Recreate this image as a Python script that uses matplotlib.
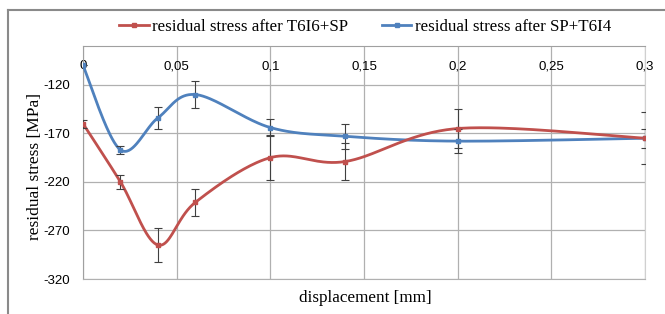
import numpy as np
import matplotlib
matplotlib.use("Agg")
import matplotlib.pyplot as plt
from matplotlib.lines import Line2D

# datos
desplazamiento = [0.0, 0.02, 0.04, 0.06, 0.10, 0.14, 0.20, 0.30]
tension_t6i6_sp = [-160, -220, -285, -241, -195, -199, -165, -175]
error_t6i6_sp = [4, 7, 18, 14, 23, 19, 20, 27]
tension_sp_t6i4 = [-100, -187, -154, -130, -164, -173, -178, -175]
error_sp_t6i4 = [0, 4, 11, 14, 9, 13, 12, 10]

etiquetas_x = ["0", "0,05", "0,1", "0,15", "0,2", "0,25", "0,3"]
ticks_x = [0, 0.05, 0.1, 0.15, 0.2, 0.25, 0.3]
ticks_y = [-320, -270, -220, -170, -120]

ROJO = "#C0504D"
AZUL = "#4F81BD"


# curva suavizada tipo Excel (Bezier / Catmull-Rom)
def suavizar(x, y, n=40):
    p = np.column_stack([x, y]).astype(float)
    p = np.vstack([p[0], p, p[-1]])
    xs, ys = [], []
    t = np.linspace(0, 1, n)
    for i in range(1, len(p) - 2):
        p0, p1, p2, p3 = p[i - 1], p[i], p[i + 1], p[i + 2]
        b1 = p1 + (p2 - p0) / 6
        b2 = p2 - (p3 - p1) / 6
        c = ((1 - t) ** 3)[:, None] * p1 + (3 * (1 - t) ** 2 * t)[:, None] * b1 \
            + (3 * (1 - t) * t ** 2)[:, None] * b2 + (t ** 3)[:, None] * p2
        xs.extend(c[:, 0])
        ys.extend(c[:, 1])
    return xs, ys


fig = plt.figure(figsize=(6.65, 3.14), dpi=100)
ax = fig.add_axes([83 / 665, 35 / 314, 562 / 665, 233 / 314])

serif = "Liberation Serif"
sans = "Liberation Sans"

for yv, err, col in [(tension_sp_t6i4, error_sp_t6i4, AZUL),
                     (tension_t6i6_sp, error_t6i6_sp, ROJO)]:
    ax.errorbar(desplazamiento, yv, yerr=err, fmt="none", ecolor="#404040",
                elinewidth=0.8, capsize=3, capthick=0.8, zorder=4)
    sx, sy = suavizar(desplazamiento, yv)
    ax.plot(sx, sy, color=col, lw=2, zorder=3, solid_capstyle="round")
    ax.plot(desplazamiento, yv, "s", color=col, ms=2.5, zorder=5)

ax.set_xlim(0, 0.3)
ax.set_ylim(-320, -80)
ax.set_xticks(ticks_x)
ax.set_xticklabels(etiquetas_x, fontfamily=sans, fontsize=9.5)
ax.set_yticks(ticks_y)
ax.set_yticklabels([str(v) for v in ticks_y], fontfamily=sans, fontsize=9.5)
ax.xaxis.tick_top()
ax.tick_params(axis="x", length=0, pad=-19)
ax.tick_params(axis="y", length=0, pad=9)
ax.grid(True, color="#b0b0b0", lw=0.9)
ax.set_axisbelow(True)
for lado in ["top", "left"]:
    ax.spines[lado].set_color("#a0a0a0")
ax.spines["right"].set_color("#d0d0d0")
ax.spines["bottom"].set_color("#b0b0b0")

fig.text(35 / 665, 1 - 167 / 314, "residual stress [MPa]", fontfamily=serif,
         fontsize=12.5, rotation=90, ha="center", va="center")
fig.text(365 / 665, 1 - 298 / 314, "displacement [mm]", fontfamily=serif,
         fontsize=12.3, ha="center", va="center")

h1 = Line2D([], [], color=ROJO, lw=2, marker="s", ms=2.5)
h2 = Line2D([], [], color=AZUL, lw=2, marker="s", ms=2.5)
fig.legend([h1, h2], ["residual stress after T6I6+SP", "residual stress after SP+T6I4"],
           loc="center", bbox_to_anchor=(365 / 665, 1 - 27 / 314), ncol=2, frameon=False,
           prop={"family": serif, "size": 12.2}, handlelength=1.75, handletextpad=0.2,
           columnspacing=2.0, borderpad=0, borderaxespad=0)

# borde exterior (recortado a derecha y abajo)
fig.add_artist(Line2D([8 / 665, 1], [1 - 10 / 314, 1 - 10 / 314], color="#8a8a8a", lw=1.5,
                      transform=fig.transFigure))
fig.add_artist(Line2D([8 / 665, 8 / 665], [0, 1 - 10 / 314], color="#8a8a8a", lw=1.5,
                      transform=fig.transFigure))

fig.savefig("out.png", dpi=100)
